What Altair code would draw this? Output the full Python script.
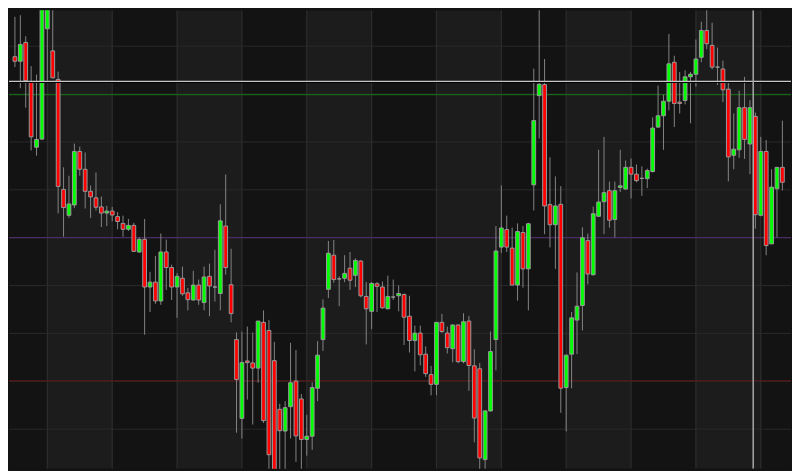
import altair as alt
import pandas as pd

# OHLC values (arbitrary price units), one candle per slot
opens = [129.7, 128.3, 134.1, 122.0, 101.8, 104.3, 138.3, 131.5, 122.7, 88.8,
         80.8, 84.0, 100.5, 95.0, 88.2, 86.2, 83.4, 81.5, 82.1, 80.4,
         78.3, 76.5, 77.7, 69.5, 73.4, 58.7, 60.2, 54.4, 69.5, 64.7,
         58.7, 61.4, 56.9, 54.7, 59.3, 53.9, 62.0, 58.7, 56.7, 77.5,
         59.4, 42.5, 18.2, 35.9, 35.3, 33.7, 47.8, 45.3, 36.0, 21.0,
         14.3, 21.8, 29.7, 24.2, 11.7, 12.7, 27.5, 42.5, 58.0, 68.5,
         61.2, 61.4, 64.5, 62.3, 66.7, 55.8, 51.2, 59.7, 58.7, 52.0,
         55.6, 56.0, 56.4, 49.7, 42.2, 44.5, 38.0, 31.7, 28.7, 47.8,
         44.5, 39.7, 47.0, 35.7, 48.2, 34.4, 33.5, 5.5, 20.5, 42.5,
         71.0, 76.4, 70.7, 59.3, 75.5, 64.3, 90.2, 117.7, 121.1, 84.1,
         77.9, 84.2, 27.7, 38.0, 48.5, 53.0, 73.0, 62.5, 80.5, 85.0,
         88.4, 79.5, 89.4, 88.9, 95.6, 93.5, 92.2, 92.1, 94.3, 108.0,
         111.5, 116.0, 128.0, 115.7, 116.2, 123.5, 124.3, 129.5, 137.8, 133.2,
         126.5, 125.9, 119.7, 99.3, 101.0, 114.0, 102.8, 111.3, 80.8, 100.5,
         72.0, 89.0, 95.6]

closes = [128.3, 133.5, 122.3, 105.0, 104.2, 150.0, 147.0, 123.2, 89.7, 83.2,
          84.3, 100.5, 95.0, 88.2, 86.5, 83.3, 81.5, 82.1, 80.9, 78.9,
          76.5, 77.7, 69.7, 73.4, 58.7, 60.2, 54.4, 69.5, 64.7, 58.7,
          62.0, 56.6, 54.8, 59.3, 54.7, 61.8, 59.0, 58.7, 79.1, 64.7,
          50.5, 30.2, 35.4, 35.4, 33.7, 48.2, 17.5, 7.0, -2.0, 14.4,
          21.5, 29.2, 12.8, 11.7, 12.7, 27.7, 37.7, 52.2, 69.1, 61.0,
          61.2, 62.9, 60.8, 66.9, 56.0, 52.0, 59.8, 58.9, 52.3, 55.8,
          55.6, 56.7, 49.4, 42.2, 44.5, 37.8, 32.0, 28.7, 47.8, 45.0,
          40.0, 47.0, 35.7, 48.0, 34.5, 18.3, 6.0, 20.5, 38.8, 69.8,
          76.9, 71.0, 59.3, 75.8, 64.3, 78.2, 110.0, 121.2, 83.7, 77.9,
          83.7, 27.5, 37.7, 49.2, 52.8, 73.9, 62.7, 81.3, 84.9, 87.8,
          79.3, 88.4, 89.9, 95.6, 93.5, 91.5, 92.2, 94.6, 107.7, 111.5,
          116.0, 127.5, 115.3, 115.3, 123.5, 124.3, 129.0, 137.8, 133.7, 126.5,
          126.5, 119.5, 98.8, 101.2, 114.0, 104.2, 114.0, 81.0, 100.5, 71.5,
          89.5, 95.6, 91.0]

highs = [142.0, 142.5, 136.0, 126.8, 124.2, 154.0, 150.0, 146.0, 125.1, 95.6,
         93.0, 102.9, 102.0, 100.2, 90.0, 94.0, 86.6, 83.7, 83.4, 81.8,
         80.7, 79.7, 78.5, 74.0, 79.7, 63.4, 68.3, 75.2, 73.3, 65.6,
         63.0, 65.0, 58.4, 63.7, 61.0, 65.0, 65.9, 70.2, 84.2, 93.4,
         70.5, 44.7, 45.0, 46.5, 44.7, 48.2, 51.5, 48.5, 41.8, 22.7,
         23.5, 41.5, 39.3, 25.7, 19.3, 29.3, 42.0, 54.9, 72.9, 73.2,
         62.0, 68.5, 69.5, 67.5, 67.0, 60.2, 60.2, 60.2, 60.4, 62.2,
         61.0, 59.2, 56.7, 56.0, 46.8, 46.8, 40.4, 34.4, 47.8, 50.4,
         46.5, 47.2, 47.2, 50.6, 49.8, 39.5, 35.3, 20.8, 45.0, 77.5,
         90.0, 80.7, 77.0, 78.3, 77.5, 78.5, 126.0, 146.0, 129.0, 98.7,
         92.8, 89.8, 37.7, 51.0, 63.2, 77.1, 75.2, 83.5, 101.0, 105.0,
         91.2, 91.2, 101.0, 97.7, 98.3, 96.5, 95.9, 95.2, 111.0, 120.8,
         118.0, 136.7, 130.0, 125.0, 125.5, 125.0, 135.0, 140.5, 146.0, 140.2,
         132.5, 128.5, 122.0, 112.2, 119.2, 123.5, 116.3, 112.5, 105.0, 104.0,
         95.0, 95.6, 110.0]

lows = [126.5, 120.0, 114.0, 100.8, 99.2, 104.0, 122.3, 123.0, 81.4, 74.2,
        80.0, 83.0, 93.0, 82.9, 80.0, 82.3, 77.2, 77.5, 79.0, 76.5,
        74.2, 76.0, 69.5, 69.2, 44.0, 51.0, 53.5, 53.2, 57.8, 54.7,
        49.2, 56.0, 51.5, 54.5, 53.2, 51.5, 49.7, 54.2, 51.5, 62.5,
        47.8, 13.8, 12.0, 24.0, 16.3, 29.2, 16.8, 1.0, -6.0, -1.0,
        -1.0, 12.0, 4.8, -1.0, 6.7, 8.5, 23.5, 39.0, 55.3, 60.0,
        52.8, 60.2, 57.8, 58.7, 55.5, 41.0, 45.7, 51.0, 52.0, 51.8,
        54.7, 51.2, 40.8, 38.5, 32.7, 34.5, 31.0, 25.3, 25.3, 44.5,
        38.2, 35.5, 35.2, 35.2, 26.7, 10.8, 1.0, 1.0, 20.3, 33.0,
        69.2, 69.5, 59.3, 54.5, 58.5, 51.5, 82.3, 104.5, 75.0, 70.9,
        64.3, 19.9, 14.2, 27.5, 38.0, 45.3, 59.5, 62.2, 80.3, 75.0,
        77.0, 74.0, 88.0, 88.7, 86.0, 91.0, 86.8, 89.2, 94.0, 107.8,
        101.0, 113.2, 108.0, 112.2, 115.0, 109.2, 120.5, 128.0, 132.0, 125.8,
        121.0, 115.7, 91.3, 95.0, 98.5, 98.2, 93.5, 76.7, 80.5, 68.5,
        72.0, 74.0, 88.5]

grid_levels = [132.95, 118.19, 103.43, 88.67, 73.91, 59.15, 44.39, 29.63, 14.87]
vgrid_slots = [6, 18, 30, 42, 54, 66, 78, 90, 102, 114, 126, 138]
band_starts = [6, 30, 54, 78, 102, 126]
band_ends = [18, 42, 66, 90, 114, 138]

level_names = ["last", "green", "purple", "red"]
level_values = [122.1, 118.0, 73.9, 29.8]
crosshair_slot = 136.6

n = len(opens)
df = pd.DataFrame({
    "i": list(range(n)),
    "open": opens, "high": highs, "low": lows, "close": closes,
})
df["dir"] = ["up" if c > o else ("down" if c < o else "flat") for o, c in zip(opens, closes)]

xs = alt.Scale(domain=[-0.18, 142.68], nice=False, zero=False)
ys = alt.Scale(domain=[2.7, 144.0], nice=False, zero=False)

bands = alt.Chart(pd.DataFrame({"s": band_starts, "e": band_ends})).mark_rect(
    color="#1c1c1c", clip=True
).encode(
    x=alt.X("s:Q", scale=xs, axis=None),
    x2="e:Q",
)

hgrid = alt.Chart(pd.DataFrame({"v": grid_levels})).mark_rule(
    color="#292929", strokeWidth=1
).encode(y=alt.Y("v:Q", scale=ys, axis=None))

vgrid = alt.Chart(pd.DataFrame({"s": vgrid_slots})).mark_rule(
    color="#2d2d2d", strokeWidth=1.2, clip=True
).encode(x=alt.X("s:Q", scale=xs, axis=None))

lvl_df = pd.DataFrame({"name": level_names[1:], "v": level_values[1:]})
levels = alt.Chart(lvl_df).mark_rule(strokeWidth=1.2).encode(
    y=alt.Y("v:Q", scale=ys, axis=None),
    color=alt.Color("name:N", scale=alt.Scale(
        domain=["green", "purple", "red"],
        range=["#166416", "#4a2c62", "#621818"]), legend=None),
)

wicks = alt.Chart(df).mark_rule(color="#858585", strokeWidth=1, clip=True).encode(
    x=alt.X("i:Q", scale=xs, axis=None),
    y=alt.Y("low:Q", scale=ys, axis=None),
    y2="high:Q",
)

bodies = alt.Chart(df).mark_bar(size=3.8, stroke="#9a9a9a", strokeWidth=1, clip=True).encode(
    x=alt.X("i:Q", scale=xs, axis=None),
    y=alt.Y("open:Q", scale=ys, axis=None),
    y2="close:Q",
    fill=alt.Fill("dir:N", scale=alt.Scale(
        domain=["up", "down", "flat"],
        range=["#00ff00", "#ff0000", "#d0d0d0"]), legend=None),
)

last_shadow = alt.Chart(pd.DataFrame({"v": [level_values[0] - 0.35]})).mark_rule(
    color="#000000", strokeWidth=1.2
).encode(y=alt.Y("v:Q", scale=ys, axis=None))

last_line = alt.Chart(pd.DataFrame({"v": [level_values[0]]})).mark_rule(
    color="#c8c8c8", strokeWidth=1.3
).encode(y=alt.Y("v:Q", scale=ys, axis=None))

cross = alt.Chart(pd.DataFrame({"s": [crosshair_slot]})).mark_rule(
    color="#a8a8a8", strokeWidth=1.5, clip=True
).encode(x=alt.X("s:Q", scale=xs, axis=None))

chart = alt.layer(
    bands, hgrid, vgrid, levels, wicks, bodies, last_shadow, last_line, cross
).properties(
    width=792, height=463,
    autosize=alt.AutoSizeParams(type="fit", contains="padding"),
    padding=0,
    background="#131313",
).configure_view(stroke=None, fill="#131313")

chart.save("out.html", embed_options={"renderer": "svg", "actions": False})
